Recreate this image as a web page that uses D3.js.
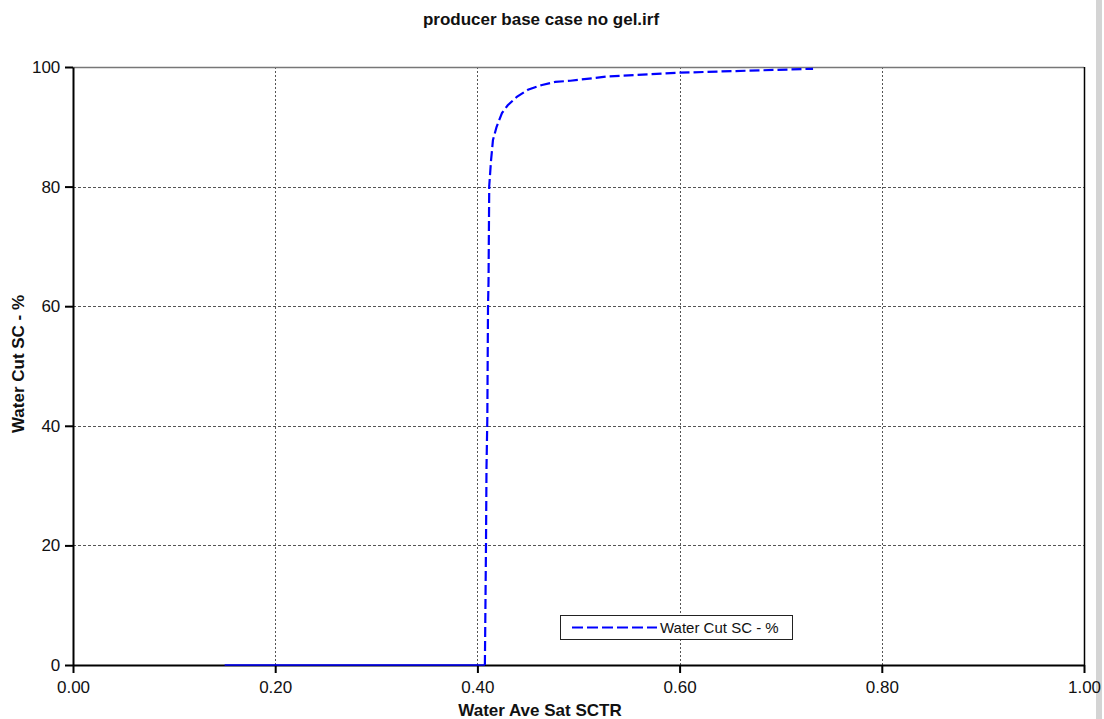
<!DOCTYPE html>
<html>
<head>
<meta charset="utf-8">
<script src="https://cdn.jsdelivr.net/npm/d3@7"></script>
<style>
  html, body { margin: 0; padding: 0; background: #fff; }
  svg { display: block; font-family: "Liberation Sans", Arial, sans-serif; }
</style>
</head>
<body>
<svg id="chart" width="1104" height="719"></svg>
<script>
// Water cut vs. average water saturation, producer base case (no gel)
const chartTitle = "producer base case no gel.irf";
const xLabel = "Water Ave Sat SCTR";
const yLabel = "Water Cut SC - %";
const seriesName = "Water Cut SC - %";

// pre-breakthrough: water cut stays at zero while saturation rises
const baselineSat = [0.150, 0.4074];
const baselineCut = [0, 0];

// after breakthrough
const waterSat = [0.4074, 0.4085, 0.4090, 0.4098, 0.4105, 0.4110, 0.4117, 0.4135, 0.4154, 0.4190,
                  0.4243, 0.4300, 0.4390, 0.4500, 0.4640, 0.4770, 0.4920, 0.5280, 0.6000, 0.7320];
const waterCut = [0.0, 20.0, 33.0, 41.0, 60.0, 64.0, 80.1, 84.4, 87.8, 90.0,
                  92.3, 93.6, 95.0, 96.2, 97.0, 97.5, 97.7, 98.4, 99.05, 99.7];

const xTicks = [0, 0.2, 0.4, 0.6, 0.8, 1.0];
const yTicks = [0, 20, 40, 60, 80, 100];

const svg = d3.select("#chart");
const margin = { left: 73, right: 1104 - 1084, top: 67, bottom: 719 - 665 };
const W = 1104, H = 719;

const x = d3.scaleLinear().domain([0, 1]).range([margin.left, W - margin.right]);
const y = d3.scaleLinear().domain([0, 100]).range([H - margin.bottom, margin.top]);

// grey scrollbar-like strip on the right edge
svg.append("rect").attr("x", 1096).attr("y", 0).attr("width", 6).attr("height", H).attr("fill", "#d4d4d4");

// grid
const grid = svg.append("g");
grid.selectAll(".vg").data(xTicks.filter(d => d > 0 && d < 1)).join("line")
  .attr("x1", d => Math.round(x(d)) + 0.5).attr("x2", d => Math.round(x(d)) + 0.5)
  .attr("y1", y(100)).attr("y2", y(0))
  .attr("stroke", "#555").attr("stroke-width", 1).attr("stroke-dasharray", "2,2");
grid.selectAll(".hg").data(yTicks.filter(d => d > 0 && d < 100)).join("line")
  .attr("y1", d => Math.round(y(d)) + 0.5).attr("y2", d => Math.round(y(d)) + 0.5)
  .attr("x1", x(0)).attr("x2", x(1))
  .attr("stroke", "#555").attr("stroke-width", 1).attr("stroke-dasharray", "3,2");

// frame: grey top, black right
svg.append("line").attr("x1", x(0)).attr("x2", x(1)).attr("y1", y(100) + 0.5).attr("y2", y(100) + 0.5)
  .attr("stroke", "#777").attr("stroke-width", 1.5);
svg.append("line").attr("x1", x(1) + 0.5).attr("x2", x(1) + 0.5).attr("y1", y(100)).attr("y2", y(0))
  .attr("stroke", "#000").attr("stroke-width", 1.5);

// axes
const xAxis = d3.axisBottom(x).tickValues(xTicks).tickFormat(d3.format(".2f")).tickSize(8).tickSizeOuter(0);
const yAxis = d3.axisLeft(y).tickValues(yTicks).tickFormat(d3.format("d")).tickSize(8).tickSizeOuter(0);

const gx = svg.append("g").attr("transform", `translate(0,${y(0)})`).call(xAxis);
const gy = svg.append("g").attr("transform", `translate(${x(0)},0)`).call(yAxis);
[gx, gy].forEach(g => {
  g.select(".domain").attr("stroke", "#000").attr("stroke-width", 2);
  g.selectAll(".tick line").attr("stroke", "#000").attr("stroke-width", 2);
  g.selectAll(".tick text").attr("fill", "#111").style("font-size", "17px")
   .style("font-family", "'Liberation Sans', Arial, sans-serif");
});
gx.selectAll(".tick text").attr("dy", "1.0em");
gy.selectAll(".tick text").attr("dx", "-0.1em");

// series
const line = d3.line().x(d => x(d[0])).y(d => y(d[1]));
const basePts = baselineSat.map((s, i) => [s, baselineCut[i]]);
const curvePts = waterSat.map((s, i) => [s, waterCut[i]]);

svg.append("path").attr("d", line(basePts)).attr("fill", "none")
  .attr("stroke", "#0000ff").attr("stroke-width", 1.5);
svg.append("path").attr("d", line(curvePts)).attr("fill", "none")
  .attr("stroke", "#0000ff").attr("stroke-width", 2.2).attr("stroke-dasharray", "10,4");

// legend
const lg = svg.append("g");
lg.append("rect").attr("x", 560.5).attr("y", 615.5).attr("width", 232).attr("height", 24)
  .attr("fill", "#fff").attr("stroke", "#222").attr("stroke-width", 1);
lg.append("line").attr("x1", 572).attr("x2", 657).attr("y1", 627.5).attr("y2", 627.5)
  .attr("stroke", "#0000ff").attr("stroke-width", 2).attr("stroke-dasharray", "11,4");
lg.append("text").attr("x", 660).attr("y", 633).text(seriesName)
  .style("font-size", "15px").attr("fill", "#111");

// titles
svg.append("text").attr("x", 541).attr("y", 25).attr("text-anchor", "middle")
  .style("font-size", "17px").style("font-weight", "bold").attr("fill", "#111").text(chartTitle);
svg.append("text").attr("x", 540).attr("y", 716).attr("text-anchor", "middle")
  .style("font-size", "17px").style("font-weight", "bold").attr("fill", "#111").text(xLabel);
svg.append("text").attr("transform", `translate(24,364) rotate(-90)`).attr("text-anchor", "middle")
  .style("font-size", "17px").style("font-weight", "bold").attr("fill", "#111").text(yLabel);
</script>
</body>
</html>
